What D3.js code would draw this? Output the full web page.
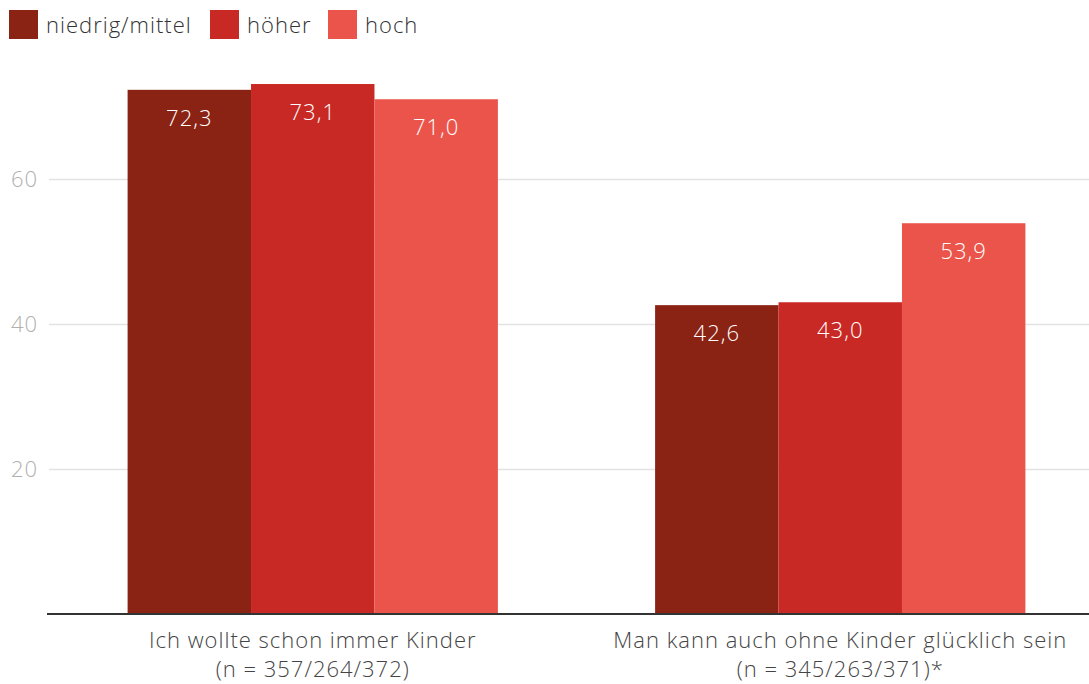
<!DOCTYPE html>
<html>
<head>
<meta charset="utf-8">
<script src="https://cdn.jsdelivr.net/npm/d3@7"></script>
<style>
  body { margin: 0; background: #fff; }
  svg { display: block; font-family: "Open Sans", "Noto Sans", sans-serif; font-weight: 300; letter-spacing: 1px; }
</style>
</head>
<body>
<div id="chart"></div>
<script>
// data
const categories = ['Ich wollte schon immer Kinder', 'Man kann auch ohne Kinder glücklich sein'];
const subLabels = ['(n = 357/264/372)', '(n = 345/263/371)*'];
const seriesNames = ['niedrig/mittel', 'höher', 'hoch'];
const seriesValues = [
  [72.3, 42.6],
  [73.1, 43.0],
  [71.0, 53.9]
];
const yTicks = [20, 40, 60];
const colors = ['#8a2314', '#c92924', '#eb544a'];

const width = 1089, height = 684;
const svg = d3.select('#chart').append('svg')
  .attr('width', width)
  .attr('height', height);

//Scales
const x0 = d3.scaleBand()
  .domain(categories)
  .range([49, 1104])
  .paddingInner(0.298)
  .paddingOuter(0.149);
const x1 = d3.scaleBand()
  .domain(seriesNames)
  .range([0, x0.bandwidth()]);
const y = d3.scaleLinear()
  .domain([0, 80])
  .range([614, 34]);

//Gridlines + y labels
const grid = svg.append('g');
grid.selectAll('line')
  .data(yTicks)
  .enter().append('line')
  .attr('x1', 49).attr('x2', width)
  .attr('y1', d => Math.round(y(d)) + 0.5)
  .attr('y2', d => Math.round(y(d)) + 0.5)
  .attr('stroke', '#e3e3e3')
  .attr('stroke-width', 1.5);
grid.selectAll('text')
  .data(yTicks)
  .enter().append('text')
  .attr('x', 38)
  .attr('y', d => y(d))
  .attr('dy', '0.35em')
  .attr('text-anchor', 'end')
  .attr('fill', '#b0b0b0')
  .style('font-size', '22px')
  .text(d => d);

//Bars
const rows = [];
seriesNames.forEach((s, si) => {
  categories.forEach((c, ci) => {
    rows.push({ series: s, si: si, cat: c, value: seriesValues[si][ci] });
  });
});

svg.append('g').selectAll('rect')
  .data(rows)
  .enter().append('rect')
  .attr('x', d => x0(d.cat) + x1(d.series))
  .attr('y', d => y(d.value))
  .attr('width', x1.bandwidth())
  .attr('height', d => y(0) - y(d.value))
  .attr('fill', d => colors[d.si]);

svg.append('g').selectAll('text')
  .data(rows)
  .enter().append('text')
  .attr('x', d => x0(d.cat) + x1(d.series) + x1.bandwidth() / 2)
  .attr('y', d => y(d.value) + 36)
  .attr('text-anchor', 'middle')
  .attr('fill', '#fff')
  .style('font-size', '22px')
  .text(d => d3.format('.1f')(d.value).replace('.', ','));

//Baseline
svg.append('line')
  .attr('x1', 47).attr('x2', width)
  .attr('y1', 614).attr('y2', 614)
  .attr('stroke', '#333')
  .attr('stroke-width', 2);

//Category labels
const catG = svg.append('g').selectAll('text')
  .data(categories)
  .enter().append('text')
  .attr('text-anchor', 'middle')
  .attr('fill', '#444')
  .style('font-size', '22px');
catG.append('tspan')
  .attr('x', d => x0(d) + x0.bandwidth() / 2)
  .attr('y', 648)
  .text(d => d);
catG.append('tspan')
  .attr('x', d => x0(d) + x0.bandwidth() / 2)
  .attr('y', 677)
  .text((d, i) => subLabels[i]);

//Legend
const legendX = [9, 210, 328];
const legend = svg.append('g').selectAll('g')
  .data(seriesNames)
  .enter().append('g')
  .attr('transform', (d, i) => `translate(${legendX[i]}, 10)`);
legend.append('rect')
  .attr('width', 29).attr('height', 29)
  .attr('fill', (d, i) => colors[i]);
legend.append('text')
  .attr('x', 37)
  .attr('y', 23)
  .attr('fill', '#333')
  .style('font-size', '22px')
  .text(d => d);
</script>
</body>
</html>
